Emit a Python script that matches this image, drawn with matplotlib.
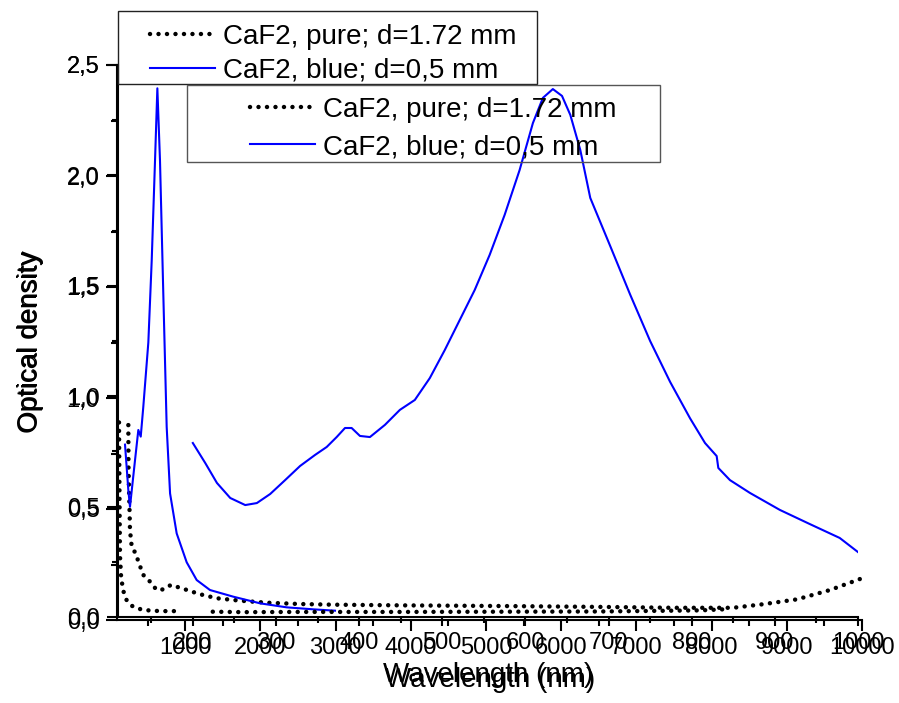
import matplotlib
matplotlib.use('Agg')
import matplotlib.pyplot as plt
from matplotlib.patches import Rectangle
from matplotlib.ticker import MultipleLocator, FuncFormatter

plt.rcParams['font.family'] = ['Liberation Sans', 'DejaVu Sans']

# IR layer (x axis 100 - 10000)
ir_blue_x = [200, 244, 266, 333, 377, 409, 443, 510, 555, 599, 630, 665, 709, 754,
             799, 887, 1020, 1153, 1330, 1640, 1997, 2350, 2704, 2992]
ir_blue_y = [0.79, 0.585, 0.51, 0.72, 0.856, 0.826, 0.96, 1.25, 1.62, 2.07, 2.395, 2.07,
             1.47, 0.87, 0.57, 0.39, 0.26, 0.18, 0.135, 0.105, 0.075, 0.057, 0.048, 0.042]

ir_pure1_x = [120, 127, 133, 147, 173, 226, 306, 439, 665, 878]
ir_pure1_y = [0.89, 0.54, 0.29, 0.20, 0.135, 0.085, 0.06, 0.045, 0.04, 0.04]

ir_pure2_x = [244, 246, 257, 266, 289, 346, 377, 443, 532, 621, 709, 811, 998, 1197,
              1419, 1729, 2084, 2527, 2966, 3856, 5186, 6516, 7500, 8285, 8684, 9136,
              9574, 10000]
ir_pure2_y = [0.878, 0.69, 0.54, 0.405, 0.33, 0.297, 0.263, 0.203, 0.173, 0.135, 0.138,
              0.158, 0.138, 0.116, 0.098, 0.087, 0.078, 0.072, 0.069, 0.066, 0.063,
              0.059, 0.055, 0.055, 0.071, 0.093, 0.135, 0.188]

# UV-Vis layer (x axis 110 - 1000 nm)
uv_blue_x = [200, 215, 229, 245, 263, 277, 293, 311, 329, 347, 361, 373, 383, 391,
             401, 413, 431, 449, 467, 485, 503, 521, 539, 557, 575, 593, 609, 621,
             633, 644, 654, 666, 678, 702, 726, 750, 774, 798, 816, 830, 832, 846,
             870, 906, 942, 978, 1000]
uv_blue_y = [0.788, 0.697, 0.607, 0.539, 0.507, 0.516, 0.557, 0.620, 0.684, 0.734,
             0.770, 0.815, 0.856, 0.856, 0.820, 0.815, 0.870, 0.938, 0.983, 1.082,
             1.209, 1.345, 1.481, 1.640, 1.821, 2.024, 2.237, 2.351, 2.391, 2.36,
             2.274, 2.115, 1.898, 1.680, 1.460, 1.250, 1.065, 0.900, 0.788, 0.729,
             0.675, 0.620, 0.562, 0.485, 0.421, 0.358, 0.294]

uv_pure_x = [224, 260, 329, 449, 569, 690, 810, 846]
uv_pure_y = [0.024, 0.022, 0.023, 0.023, 0.024, 0.025, 0.03, 0.036]

label_pure = 'CaF2, pure; d=1.72 mm'
label_blue = 'CaF2, blue; d=0,5 mm'

W, H = 899, 703
fig = plt.figure(figsize=(W / 100, H / 100), dpi=100)


def px_box(left, right, bottom, top):
    return [left / W, 1 - bottom / H, (right - left) / W, (bottom - top) / H]


ax1 = fig.add_axes(px_box(117.5, 862, 620, 65))
ax2 = fig.add_axes(px_box(118, 858, 617, 65))
ax2.patch.set_visible(False)

dot_style = dict(color='black', lw=3.2, linestyle=(0, (0.01, 1.9)),
                 dash_capstyle='round')

ax1.plot(ir_pure1_x, ir_pure1_y, **dot_style)
ax1.plot(ir_pure2_x, ir_pure2_y, label=label_pure, **dot_style)
ax1.plot(ir_blue_x, ir_blue_y, color='blue', lw=1.5, label=label_blue)

ax2.plot(uv_pure_x, uv_pure_y, label=label_pure, **dot_style)
ax2.plot(uv_blue_x, uv_blue_y, color='blue', lw=1.5, label=label_blue)

ax1.set_xlim(100, 10000)
ax2.set_xlim(110, 1000)

comma = FuncFormatter(lambda v, p: f'{v:.1f}'.replace('.', ','))
for ax, big in [(ax1, True), (ax2, False)]:
    ax.set_ylim(0, 2.5)
    for s in ['top', 'right']:
        ax.spines[s].set_visible(False)
    for s in ['left', 'bottom']:
        ax.spines[s].set_linewidth(1.5)
    ax.yaxis.set_major_locator(MultipleLocator(0.5))
    ax.yaxis.set_minor_locator(MultipleLocator(0.25))
    ax.yaxis.set_major_formatter(comma)
    ax.tick_params(axis='both', which='major', direction='out', width=1.5,
                   labelsize=17, pad=4)
    ax.tick_params(axis='y', which='major', length=8, pad=5)
    ax.tick_params(axis='both', which='minor', direction='out', width=1.5, length=4)
    ax.tick_params(axis='x', which='major', length=8 if big else 6.5)
    ax.set_xlabel('Wavelength (nm)', fontsize=20, labelpad=6)
    ax.set_ylabel('Optical density', fontsize=20, labelpad=17)

ax1.xaxis.set_major_locator(MultipleLocator(1000))
ax1.xaxis.set_minor_locator(MultipleLocator(500))
ax2.xaxis.set_major_locator(MultipleLocator(100))
ax2.xaxis.set_minor_locator(MultipleLocator(50))
ax2.set_xticks([t for t in range(200, 1001, 100)])

# legend frames
fig.patches.append(Rectangle((118 / W, 1 - 84 / H), (537 - 118) / W, (84 - 11) / H,
                             transform=fig.transFigure, fill=False, lw=1,
                             edgecolor='#222222', zorder=5))
fig.patches.append(Rectangle((187 / W, 1 - 162 / H), (660 - 187) / W, (162 - 85) / H,
                             transform=fig.transFigure, fill=False, lw=1,
                             edgecolor='#555555', zorder=5))

leg_kw = dict(frameon=False, fontsize=20, borderpad=0, borderaxespad=0,
              handlelength=2.35, handletextpad=0.28,
              loc='upper left', bbox_transform=fig.transFigure)
ax1.legend(bbox_to_anchor=(150 / W, 1 - 24 / H), labelspacing=0.28, **leg_kw)
ax2.legend(bbox_to_anchor=(250 / W, 1 - 97 / H), labelspacing=0.4, **leg_kw)

fig.savefig('out.png', dpi=100)
